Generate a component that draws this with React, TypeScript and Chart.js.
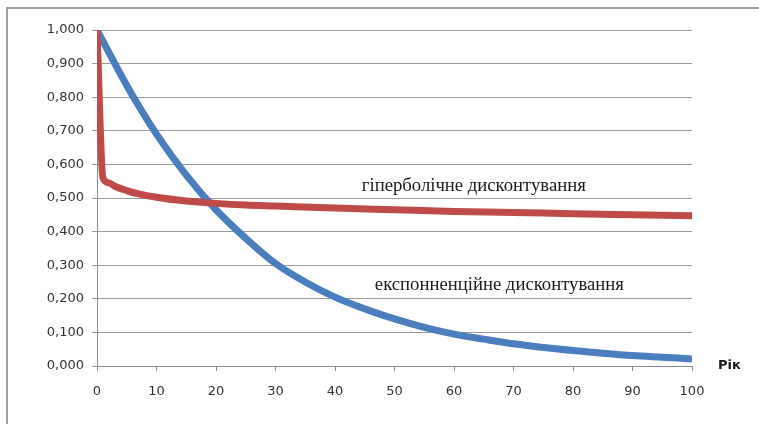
import React, { useEffect, useRef } from "react";
import { Chart, registerables } from "chart.js";

Chart.register(...registerables);

// Years and discount factors
const hyperYears = [0, 1, 2, 3, 5, 7, 10, 15, 20, 25, 30, 40, 50, 60, 70, 80, 90, 100];
const hyperValues = [1.0, 0.56, 0.545, 0.535, 0.522, 0.512, 0.502, 0.491, 0.484, 0.479, 0.476, 0.47, 0.465, 0.46, 0.457, 0.453, 0.45, 0.447];

const expYears = [0, 5, 10, 15, 20, 25, 30, 35, 40, 45, 50, 55, 60, 65, 70, 75, 80, 85, 90, 95, 100];
const expValues = [1.0, 0.835, 0.69, 0.568, 0.465, 0.38, 0.305, 0.25, 0.205, 0.17, 0.14, 0.115, 0.095, 0.08, 0.066, 0.055, 0.046, 0.038, 0.031, 0.026, 0.021];

const hyperLabel = "гіперболічне дисконтування";
const expLabel = "експонненційне дисконтування";
const axisTitle = "Рік";

const toPoints = (xs: number[], ys: number[]) => xs.map((x, i) => ({ x, y: ys[i] }));

const labelsPlugin = {
  id: "curveLabels",
  beforeDraw(chart: any) {
    const ctx = chart.ctx;
    ctx.save();
    ctx.fillStyle = "#9d9d9d";
    ctx.fillRect(6, 7, 2, chart.height - 7);
    ctx.fillRect(6, 7, chart.width - 6, 2);
    ctx.restore();
  },
  afterDraw(chart: any) {
    const ctx = chart.ctx;
    const xs = chart.scales.x;
    const ys = chart.scales.y;
    ctx.save();
    ctx.fillStyle = "#1a1a1a";
    ctx.textAlign = "left";
    ctx.textBaseline = "middle";
    ctx.font = '18.7px "Liberation Serif"';
    ctx.fillText(hyperLabel, xs.getPixelForValue(44.5), ys.getPixelForValue(0.536));
    ctx.fillText(expLabel, xs.getPixelForValue(46.7), ys.getPixelForValue(0.241));
    ctx.font = 'bold 13px "DejaVu Sans"';
    ctx.fillText(axisTitle, chart.chartArea.right + 26, chart.chartArea.bottom);
    ctx.restore();
  },
};

export default function App() {
  const ref = useRef<HTMLCanvasElement | null>(null);

  useEffect(() => {
    if (!ref.current) return;
    const tickFont = { family: '"DejaVu Sans"', size: 13 };
    const chart = new Chart(ref.current, {
      type: "line",
      data: {
        datasets: [
          {
            label: "hyper",
            data: toPoints(hyperYears, hyperValues),
            borderColor: "#bf4b48",
            borderWidth: 7,
            pointRadius: 0,
            cubicInterpolationMode: "monotone",
          },
          {
            label: "exp",
            data: toPoints(expYears, expValues),
            borderColor: "#4a7ebf",
            borderWidth: 7,
            pointRadius: 0,
            cubicInterpolationMode: "monotone",
          },
        ],
      },
      options: {
        animation: false,
        responsive: false,
        maintainAspectRatio: false,
        layout: { padding: { left: 0, top: 30, right: 67, bottom: 0 } },
        plugins: { legend: { display: false }, tooltip: { enabled: false } },
        scales: {
          x: {
            type: "linear",
            min: 0,
            max: 100,
            ticks: { stepSize: 10, color: "#333", font: tickFont, padding: 13, maxRotation: 0 },
            grid: { drawOnChartArea: false, drawTicks: true, tickLength: 5, color: "#8a8a8a" },
            border: { color: "#8a8a8a" },
            afterFit: (s: any) => {
              s.height = 58;
            },
          },
          y: {
            min: 0,
            max: 1,
            ticks: {
              stepSize: 0.1,
              color: "#333",
              font: tickFont,
              padding: 8,
              callback: (v: any) => Number(v).toFixed(3).replace(".", ","),
            },
            grid: { color: "#9a9a9a", tickLength: 5 },
            border: { color: "#8a8a8a" },
            afterFit: (s: any) => {
              s.width = 97;
            },
          },
        },
      },
      plugins: [labelsPlugin],
    });
    return () => chart.destroy();
  }, []);

  return (
    <canvas
      ref={ref}
      width={759}
      height={424}
      style={{ position: "fixed", left: 0, top: 0, width: 759, height: 424, background: "#fff" }}
    />
  );
}
